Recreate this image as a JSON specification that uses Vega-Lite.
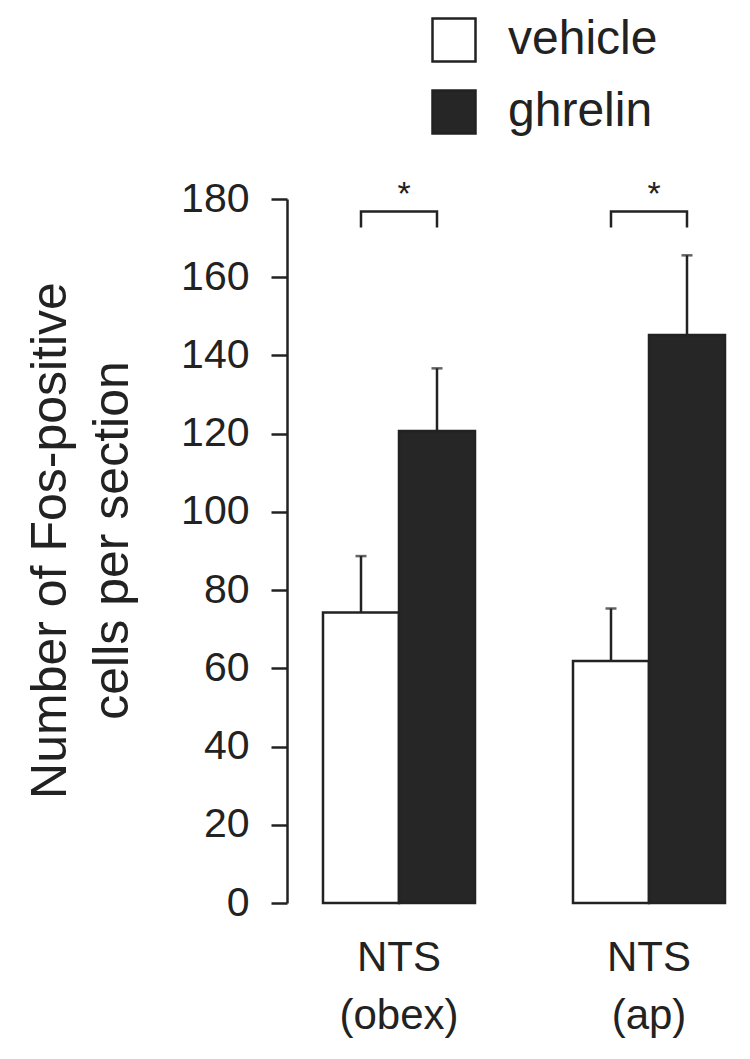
{
  "$schema": "https://vega.github.io/schema/vega-lite/v6.json",
  "width": 443,
  "height": 704,
  "autosize": {"type": "none"},
  "padding": {"left": 287, "top": 199, "right": 20, "bottom": 156},
  "background": "white",
  "config": {
    "view": {"stroke": null},
    "font": "Liberation Sans",
    "axis": {"labelFont": "Liberation Sans", "titleFont": "Liberation Sans", "grid": false},
    "legend": {"labelFont": "Liberation Sans"}
  },
  "datasets": {
    "bars": [
      {"region": "NTS (obex)", "group": "vehicle", "mean": 74.3, "upper": 88.7},
      {"region": "NTS (obex)", "group": "ghrelin", "mean": 120.7, "upper": 136.7},
      {"region": "NTS (ap)", "group": "vehicle", "mean": 61.9, "upper": 75.3},
      {"region": "NTS (ap)", "group": "ghrelin", "mean": 145.2, "upper": 165.6}
    ],
    "brackets": [
      {"region": "NTS (obex)", "group": "vehicle", "y": 172.7, "order": 1},
      {"region": "NTS (obex)", "group": "vehicle", "y": 176.8, "order": 2},
      {"region": "NTS (obex)", "group": "ghrelin", "y": 176.8, "order": 3},
      {"region": "NTS (obex)", "group": "ghrelin", "y": 172.7, "order": 4},
      {"region": "NTS (ap)", "group": "vehicle", "y": 172.7, "order": 1},
      {"region": "NTS (ap)", "group": "vehicle", "y": 176.8, "order": 2},
      {"region": "NTS (ap)", "group": "ghrelin", "y": 176.8, "order": 3},
      {"region": "NTS (ap)", "group": "ghrelin", "y": 172.7, "order": 4}
    ],
    "stars": [
      {"region": "NTS (obex)", "y": 178.5, "label": "*"},
      {"region": "NTS (ap)", "y": 178.5, "label": "*"}
    ]
  },
  "encoding": {
    "x": {
      "field": "region",
      "type": "nominal",
      "sort": ["NTS (obex)", "NTS (ap)"],
      "scale": {"paddingInner": 0.392, "paddingOuter": 0.082, "align": 0.878},
      "axis": {
        "title": null,
        "domain": false,
        "ticks": false,
        "tickSize": 0,
        "labelAngle": 0,
        "labelFontSize": 42,
        "labelColor": "#222222",
        "labelLineHeight": 58,
        "labelPadding": 34,
        "labelExpr": "split(datum.label, ' ')"
      }
    }
  },
  "layer": [
    {
      "data": {"name": "bars"},
      "mark": {"type": "bar", "stroke": "#222222", "strokeWidth": 2.5},
      "encoding": {
        "xOffset": {"field": "group", "type": "nominal", "sort": ["vehicle", "ghrelin"], "scale": {"paddingInner": 0, "paddingOuter": 0}},
        "y": {
          "field": "mean",
          "type": "quantitative",
          "scale": {"domain": [0, 180], "nice": false},
          "axis": {
            "values": [0, 20, 40, 60, 80, 100, 120, 140, 160, 180],
            "title": ["Number of Fos-positive", "cells per section"],
            "titleFontSize": 50,
            "titleFontWeight": "normal",
            "titleColor": "#222222",
            "titleLineHeight": 62,
            "titleBaseline": "alphabetic",
            "titleX": -222,
            "titleY": 341,
            "labelFontSize": 41,
            "labelColor": "#222222",
            "labelPadding": 22,
            "tickSize": 16,
            "tickWidth": 2.5,
            "tickColor": "#222222",
            "domainWidth": 2.5,
            "domainColor": "#222222"
          }
        },
        "fill": {
          "field": "group",
          "type": "nominal",
          "sort": ["vehicle", "ghrelin"],
          "scale": {"domain": ["vehicle", "ghrelin"], "range": ["#ffffff", "#262626"]},
          "legend": {
            "title": null,
            "orient": "none",
            "legendX": 143,
            "legendY": -183,
            "padding": 0,
            "symbolType": "square",
            "symbolSize": 1849,
            "symbolStrokeColor": "#222222",
            "symbolStrokeWidth": 2.5,
            "labelFontSize": 48,
            "labelColor": "#222222",
            "labelOffset": 30,
            "rowPadding": 18
          }
        }
      }
    },
    {
      "data": {"name": "bars"},
      "mark": {"type": "rule", "color": "#222222", "strokeWidth": 2.5},
      "encoding": {
        "xOffset": {"field": "group", "type": "nominal", "sort": ["vehicle", "ghrelin"]},
        "y": {"field": "mean", "type": "quantitative"},
        "y2": {"field": "upper"}
      }
    },
    {
      "data": {"name": "bars"},
      "mark": {"type": "tick", "color": "#222222", "orient": "horizontal", "size": 11, "thickness": 2.5},
      "encoding": {
        "xOffset": {"field": "group", "type": "nominal", "sort": ["vehicle", "ghrelin"]},
        "y": {"field": "upper", "type": "quantitative"}
      }
    },
    {
      "data": {"name": "brackets"},
      "mark": {"type": "line", "color": "#222222", "strokeWidth": 2.5},
      "encoding": {
        "xOffset": {"field": "group", "type": "nominal", "sort": ["vehicle", "ghrelin"]},
        "y": {"field": "y", "type": "quantitative"},
        "detail": {"field": "region"},
        "order": {"field": "order", "type": "quantitative"}
      }
    },
    {
      "data": {"name": "stars"},
      "mark": {"type": "text", "color": "#222222", "fontSize": 34, "baseline": "alphabetic", "align": "center", "dx": 5},
      "encoding": {
        "y": {"field": "y", "type": "quantitative"},
        "text": {"field": "label"}
      }
    }
  ]
}
